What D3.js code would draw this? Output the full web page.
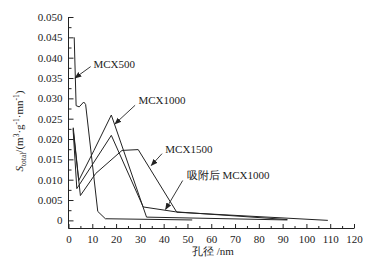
<!DOCTYPE html>
<html>
<head>
<meta charset="utf-8">
<script src="https://cdn.jsdelivr.net/npm/d3@7"></script>
<style>
  body { margin: 0; background: #fff; }
  text { font-family: "Liberation Serif", "Times New Roman", serif; fill: #222; }
</style>
</head>
<body>
<div id="chart"></div>
<script>
// pore size (nm) and S_total values
const mcx500X = [2.4, 3.2, 4.5, 6.4, 7.2, 12.3, 15.5, 52];
const mcx500Y = [0.045, 0.0282, 0.0279, 0.0291, 0.0285, 0.0022, 0.0004, 0.0001];

const mcx1000X = [2.0, 4.3, 10.7, 18.0, 32.8, 92];
const mcx1000Y = [0.0228, 0.0098, 0.0172, 0.0259, 0.0008, 0.0001];

const mcx1500X = [2.1, 5.0, 11.4, 22.5, 29.3, 45.5, 109];
const mcx1500Y = [0.0215, 0.0061, 0.0115, 0.0172, 0.0174, 0.0020, 0.0000];

const adsX = [1.9, 3.5, 18.0, 31.4, 45, 92];
const adsY = [0.0226, 0.0078, 0.0209, 0.0033, 0.0021, 0.0002];

const xTicks = [0, 10, 20, 30, 40, 50, 60, 70, 80, 90, 100, 110, 120];
const yTicks = [0, 0.005, 0.010, 0.015, 0.020, 0.025, 0.030, 0.035, 0.040, 0.045, 0.050];

const series = [
  { name: 'MCX500', x: mcx500X, y: mcx500Y },
  { name: 'MCX1000', x: mcx1000X, y: mcx1000Y },
  { name: 'MCX1500', x: mcx1500X, y: mcx1500Y },
  { name: '吸附后 MCX1000', x: adsX, y: adsY }
];

const W = 379, H = 264;
const svg = d3.select('#chart').append('svg')
  .attr('width', W).attr('height', H);

const x = d3.scaleLinear().domain([0, 120]).range([68.5, 354]);
const y = d3.scaleLinear().domain([-0.002, 0.05]).range([228.5, 17]);

// arrow head
svg.append('defs').append('marker')
  .attr('id', 'arr')
  .attr('viewBox', '0 0 10 10')
  .attr('refX', 9).attr('refY', 5)
  .attr('markerWidth', 7).attr('markerHeight', 7)
  .attr('markerUnits', 'userSpaceOnUse')
  .attr('orient', 'auto')
  .append('path').attr('d', 'M0,1 L10,5 L0,9 Z').attr('fill', '#222');

// x axis, ticks pointing inward
const xAxis = d3.axisBottom(x)
  .tickValues(d3.range(0, 121, 5))
  .tickSize(-2.5).tickPadding(7)
  .tickFormat(d => xTicks.includes(d) ? d : '');
const gx = svg.append('g').attr('transform', `translate(0,${y(-0.002)})`).call(xAxis);
gx.select('.domain').attr('d', `M${x(0)},0H${x(120)}`);
gx.selectAll('.tick line').filter(d => d % 10 === 0).attr('y2', -4.5);

// y axis
const yAxis = d3.axisLeft(y)
  .tickValues(d3.range(0, 0.0501, 0.0025))
  .tickSize(-3).tickPadding(6)
  .tickFormat(d => {
    const hit = yTicks.find(t => Math.abs(t - d) < 1e-9);
    if (hit === undefined) return '';
    return hit === 0 ? '0' : d3.format('.3f')(hit);
  });
const gy = svg.append('g').attr('transform', `translate(${x(0)},0)`).call(yAxis);
gy.select('.domain').attr('d', `M0,${y(-0.002)}V${y(0.05)}`);
gy.selectAll('.tick line')
  .filter(d => yTicks.some(t => Math.abs(t - d) < 1e-9))
  .attr('x2', 5);

svg.selectAll('.domain, .tick line').attr('stroke', '#222').attr('stroke-width', 1);
svg.selectAll('.tick text').attr('font-size', 11).attr('fill', '#222')
  .style('font-family', '"Liberation Serif", serif');

// curves
const line = d3.line().x(d => x(d[0])).y(d => y(d[1]));
series.forEach(s => {
  svg.append('path')
    .datum(s.x.map((v, i) => [v, s.y[i]]))
    .attr('d', line)
    .attr('fill', 'none')
    .attr('stroke', '#222')
    .attr('stroke-width', 1);
});

// annotations: label position, arrow from -> to (data units)
const notes = [
  { t: 'MCX500', lx: 10.5, ly: 0.0385, ax: [9.3, 0.0378], at: [2.7, 0.0350] },
  { t: 'MCX1000', lx: 29.4, ly: 0.0295, ax: [28, 0.0283], at: [19.5, 0.0237] },
  { t: 'MCX1500', lx: 40.7, ly: 0.0175, ax: [39.3, 0.0164], at: [34.8, 0.0135] },
  { t: '吸附后 MCX1000', lx: 49.7, ly: 0.0111, ax: [48, 0.0098], at: [40.8, 0.0027] }
];
notes.forEach(n => {
  svg.append('line')
    .attr('x1', x(n.ax[0])).attr('y1', y(n.ax[1]))
    .attr('x2', x(n.at[0])).attr('y2', y(n.at[1]))
    .attr('stroke', '#222').attr('stroke-width', 0.9)
    .attr('marker-end', 'url(#arr)');
  svg.append('text')
    .attr('x', x(n.lx)).attr('y', y(n.ly))
    .attr('dy', '0.35em')
    .attr('font-size', 11)
    .text(n.t);
});

// axis titles
svg.append('text')
  .attr('x', 213).attr('y', 255)
  .attr('text-anchor', 'middle')
  .attr('font-size', 11)
  .text('孔径 /nm');

const yl = svg.append('text')
  .attr('transform', 'translate(23,131) rotate(-90)')
  .attr('text-anchor', 'middle')
  .attr('font-size', 11);
yl.append('tspan').attr('font-style', 'italic').text('S');
yl.append('tspan').attr('font-size', 7.5).attr('dy', 2.5).text('total');
yl.append('tspan').attr('dy', -2.5).text('/(m');
yl.append('tspan').attr('font-size', 7.5).attr('dy', -4).text('3');
yl.append('tspan').attr('dy', 4).text('·g');
yl.append('tspan').attr('font-size', 7.5).attr('dy', -4).text('-1');
yl.append('tspan').attr('dy', 4).text('·mn');
yl.append('tspan').attr('font-size', 7.5).attr('dy', -4).text('-1');
yl.append('tspan').attr('dy', 4).text(')');
</script>
</body>
</html>
